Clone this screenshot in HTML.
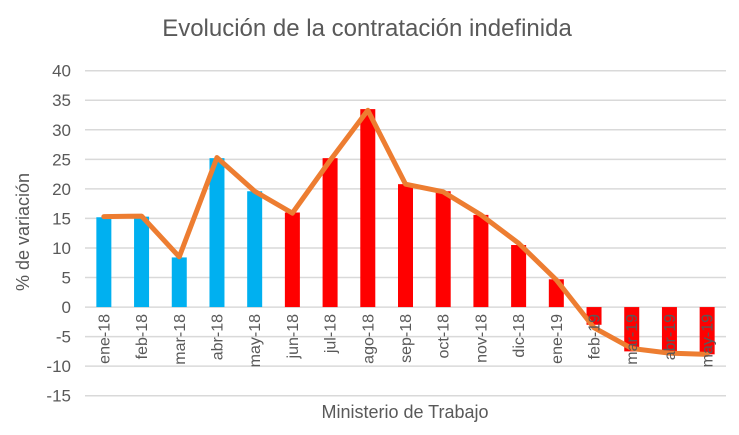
<!DOCTYPE html>
<html><head><meta charset="utf-8">
<style>
body{margin:0;background:#fff;}
svg{display:block;font-family:"Liberation Sans",sans-serif;}
</style></head>
<body>
<svg id="chart" width="739" height="435" viewBox="0 0 739 435">
<text x="367" y="36" text-anchor="middle" font-size="24" fill="#595959">Evolución de la contratación indefinida</text>
<g id="grid"></g>
<g id="bars"></g>
<g id="line"></g>
<g id="xlabels"></g>
<text transform="translate(29,232) rotate(-90)" text-anchor="middle" font-size="18" fill="#595959">% de variación</text>
<text x="405" y="418" text-anchor="middle" font-size="18" fill="#595959">Ministerio de Trabajo</text>
</svg>
<script>
const categories=["ene-18","feb-18","mar-18","abr-18","may-18","jun-18","jul-18","ago-18","sep-18","oct-18","nov-18","dic-18","ene-19","feb-19","mar-19","abr-19","may-19"];
const barValues=[15.2,15.3,8.4,25.2,19.6,16,25.2,33.5,20.8,19.6,15.6,10.5,4.7,-3,-7.5,-7.5,-8];
const lineValues=[15.3,15.4,8.5,25.3,19.6,15.9,24.8,33.3,20.8,19.5,15.6,10.8,4.6,-3.5,-7.0,-7.8,-8.0];
const blueCount=5;
const yTicks=[40,35,30,25,20,15,10,5,0,-5,-10,-15];
const NS="http://www.w3.org/2000/svg";
const x0=85,x1=726,yTop=70.7,yBot=395.7,vMax=40,vMin=-15;
const bw=(x1-x0)/categories.length;
function y(v){return yTop+(vMax-v)*(yBot-yTop)/(vMax-vMin);}
function xc(i){return x0+bw*(i+0.5);}
function mk(t,a,p){const e=document.createElementNS(NS,t);for(const k in a)e.setAttribute(k,a[k]);p.appendChild(e);return e;}
const grid=document.getElementById('grid');
yTicks.forEach(v=>{
 const l=mk('line',{x1:x0,x2:x1,y1:y(v),y2:y(v),stroke:'#d9d9d9','stroke-width':1.5},grid);
 
 
 const t=mk('text',{x:71,y:y(v)+6,'text-anchor':'end','font-size':17,fill:'#595959'},grid);
 t.textContent=v;
 
 
});
const bars=document.getElementById('bars');
barValues.forEach((v,i)=>{
 const top=Math.min(y(v),y(0)),h=Math.abs(y(v)-y(0));
 const r=mk('rect',{x:xc(i)-7.5,y:top,width:15,height:h,fill:i<blueCount?'#00B0F0':'#FF0000'},bars);
 
 
});
const xl=document.getElementById('xlabels');
categories.forEach((c,i)=>{
 const t=mk('text',{transform:`translate(${xc(i)+5.5},314) rotate(-90)`,'text-anchor':'end','font-size':16,fill:'#595959'},xl);
 t.textContent=c;
 
 
});
const pts=lineValues.map((v,i)=>xc(i)+','+y(v)).join(' ');
const pl=mk('polyline',{points:pts,fill:'none',stroke:'#ED7D31','stroke-width':5,'stroke-linejoin':'round','stroke-linecap':'round'},document.getElementById('line'));


</script>
</body></html>
